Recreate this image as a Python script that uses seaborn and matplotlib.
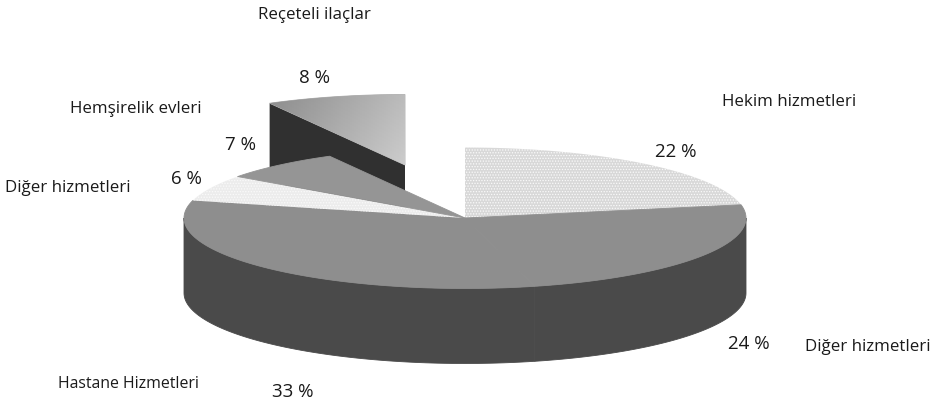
import numpy as np
import matplotlib
matplotlib.use("Agg")
import matplotlib.pyplot as plt
from matplotlib.patches import Polygon
import seaborn as sns

# Health spending shares, clockwise from twelve o'clock
categories = ["Hekim hizmetleri", "Diğer hizmetleri", "Hastane Hizmetleri",
              "Diğer hizmetleri", "Hemşirelik evleri", "Reçeteli ilaçlar"]
shares = [22, 24, 33, 6, 7, 8]
top_colors = ["#d8d8d8", "#8e8e8e", "#8e8e8e", "#ececec", "#959595", "#b0b0b0"]
side_colors = ["#4a4a4a", "#4a4a4a", "#4a4a4a", "#4a4a4a", "#4a4a4a", "#303030"]
stippled = [True, False, False, True, False, False]
exploded = [False, False, False, False, False, True]

sns.set_theme(style="white")
plt.rcParams["font.family"] = ["Open Sans", "DejaVu Sans"]
plt.rcParams["hatch.linewidth"] = 0.6

fig, ax = plt.subplots(figsize=(9.37, 4.09), dpi=100)
fig.subplots_adjust(0, 0, 1, 1)
ax.set_xlim(0, 937)
ax.set_ylim(409, 0)
ax.axis("off")

CX, CY, RX, RY, DEPTH = 465, 218, 281, 70.5, 75
SHIFT = (-60, -53)


def rim(a0, a1, dx=0, dy=0):
    t = np.radians(np.linspace(a0, a1, 80))
    return np.column_stack([CX + dx + RX * np.cos(t), CY + dy - RY * np.sin(t)])


edges = 90 - 3.6 * np.cumsum([0] + shares)
spans = list(zip(edges[:-1], edges[1:]))


def add_top(i, dx=0, dy=0, zorder=3):
    a0, a1 = spans[i]
    pts = np.vstack([[[CX + dx, CY + dy]], rim(a0, a1, dx, dy)])
    if stippled[i]:
        p = Polygon(pts, closed=True, facecolor=top_colors[i], edgecolor="#fafafa",
                    hatch="......", lw=0, zorder=zorder)
    else:
        p = Polygon(pts, closed=True, facecolor=top_colors[i],
                    edgecolor=top_colors[i], lw=0.6, zorder=zorder)
    ax.add_patch(p)
    return p


# Pulled-out slice goes first so the main body overlaps its cut wall
for i, out in enumerate(exploded):
    if not out:
        continue
    a0, a1 = spans[i]
    dx, dy = SHIFT
    apex = np.array([CX + dx, CY + dy])
    corner = rim(a0, a1, dx, dy)[0]
    wall = np.array([apex, corner, corner + [0, DEPTH], apex + [0, DEPTH]])
    ax.add_patch(Polygon(wall, closed=True, facecolor=side_colors[i], lw=0, zorder=1))
    patch = add_top(i, dx, dy, zorder=2)
    shade = np.linspace(0.58, 0.76, 64)[None, :].repeat(64, axis=0)
    shade = shade + np.linspace(-0.03, 0.04, 64)[:, None]
    img = ax.imshow(shade, cmap="gray", vmin=0, vmax=1, aspect="auto", zorder=2.1,
                    extent=(corner[0], apex[0], apex[1], corner[1] - 12),
                    interpolation="bilinear")
    img.set_clip_path(patch)
ax.set_xlim(0, 937)
ax.set_ylim(409, 0)

# Outer wall of the body, only the part that faces the viewer
for i, out in enumerate(exploded):
    if out:
        continue
    a0, a1 = spans[i]
    for turn in (0, 360):
        hi_c, lo_c = min(a0 + turn, 0), max(a1 + turn, -180)
        if hi_c > lo_c:
            front = rim(hi_c, lo_c)
            wall = np.vstack([front, front[::-1] + [0, DEPTH]])
            ax.add_patch(Polygon(wall, closed=True, facecolor=side_colors[i],
                                 edgecolor=side_colors[i], lw=0.6, zorder=2.5))

for i, out in enumerate(exploded):
    if not out:
        add_top(i)

labels = [
    (categories[5], 258, 15, "left", 12.2), (f"{shares[5]} %", 315, 78, "center", 13.5),
    (categories[4], 70, 109, "left", 12.2), (f"{shares[4]} %", 241, 145, "center", 13.5),
    (categories[3], 5, 188, "left", 12.2), (f"{shares[3]} %", 186, 179, "center", 13.5),
    (categories[0], 722, 102, "left", 12.2), (f"{shares[0]} %", 676, 152, "center", 13.5),
    (f"{shares[1]} %", 749, 344, "center", 13.5), (categories[1], 805, 347, "left", 12.2),
    (categories[2], 58, 384, "left", 11.4), (f"{shares[2]} %", 293, 392, "center", 13.5),
]
for text, x, y, ha, size in labels:
    ax.text(x, y, text, ha=ha, va="center", color="#1a1a1a", fontsize=size, zorder=5)

fig.savefig("out.png", dpi=100, facecolor="white")
